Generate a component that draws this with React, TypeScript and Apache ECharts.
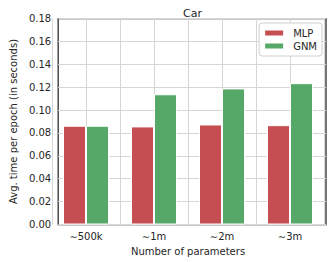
import React, { useEffect, useRef } from "react";
import * as echarts from "echarts";

const categories = ["∼500k", "∼1m", "∼2m", "∼3m"];
const mlpValues = [0.0863, 0.0857, 0.0874, 0.0868];
const gnmValues = [0.0863, 0.1138, 0.1189, 0.1235];
const gridSlots = ["a", "b", "c", "d", "e", "f", "g", "h", "i"];

export default function App() {
  const ref = useRef<HTMLDivElement>(null);
  useEffect(() => {
    if (!ref.current) return;
    const chart = echarts.init(ref.current, undefined, { renderer: "svg" });
    const font = "DejaVu Sans";
    const textColor = "#262626";
    const gridColor = "#d6d6d6";
    chart.setOption({
      animation: false,
      textStyle: { fontFamily: font },
      title: {
        text: "Car",
        left: 187.5,
        textAlign: "center",
        top: 3,
        textStyle: { fontSize: 11, fontWeight: "normal", color: textColor, fontFamily: font },
      },
      grid: [
        {
          left: 49,
          right: 7,
          top: 18.5,
          bottom: 37.5,
          show: true,
          borderColor: "#262626",
          borderWidth: 1.25,
          backgroundColor: "#ffffff",
        },
        { left: 52, right: 9, top: 18.5, bottom: 37.5 },
      ],
      legend: {
        orient: "vertical",
        right: 11,
        top: 23,
        itemWidth: 20,
        itemHeight: 7,
        itemGap: 3,
        icon: "rect",
        padding: [5, 5, 5, 4],
        borderColor: "#d0d0d0",
        borderWidth: 1,
        borderRadius: 3,
        backgroundColor: "#ffffff",
        textStyle: { fontSize: 10, color: textColor, fontFamily: font, padding: [0, 0, 0, 4] },
        data: ["MLP", "GNM"],
      },
      xAxis: [
        {
          gridIndex: 0,
          type: "value",
          min: 0,
          max: 1,
          show: false,
        },
        {
          gridIndex: 1,
          type: "category",
          data: categories,
          boundaryGap: true,
          axisLine: { show: false },
          axisTick: { show: false },
          splitLine: { show: false },
          axisLabel: { fontSize: 10, color: textColor, fontFamily: font, margin: 7 },
          name: "Number of parameters",
          nameLocation: "middle",
          nameGap: 20,
          nameTextStyle: { fontSize: 10, color: textColor, fontFamily: font },
        },
        {
          gridIndex: 1,
          type: "category",
          data: gridSlots,
          boundaryGap: false,
          axisLine: { show: false },
          axisTick: { show: false },
          axisLabel: { show: false },
          splitLine: { show: true, interval: 0, lineStyle: { color: gridColor, width: 1 } },
        },
      ],
      yAxis: [
        {
          gridIndex: 0,
          type: "value",
          min: 0,
          max: 0.18,
          interval: 0.02,
          axisLine: { show: false },
          axisTick: { show: false },
          splitLine: { show: true, lineStyle: { color: gridColor, width: 1 } },
          axisLabel: {
            formatter: (v: number) => v.toFixed(2),
            fontSize: 10,
            color: textColor,
            fontFamily: font,
            margin: 7,
          },
          name: "Avg. time per epoch (in seconds)",
          nameLocation: "middle",
          nameGap: 36,
          nameTextStyle: { fontSize: 10, color: textColor, fontFamily: font },
        },
        {
          gridIndex: 1,
          type: "value",
          min: 0,
          max: 0.18,
          interval: 0.02,
          show: false,
        },
      ],
      series: [
        {
          name: "MLP",
          type: "bar",
          xAxisIndex: 1,
          yAxisIndex: 1,
          barWidth: 23,
          barGap: "0%",
          data: mlpValues,
          itemStyle: { color: "#c44e52", borderColor: "#ffffff", borderWidth: 1 },
          z: 3,
        },
        {
          name: "GNM",
          type: "bar",
          xAxisIndex: 1,
          yAxisIndex: 1,
          barWidth: 23,
          barGap: "0%",
          data: gnmValues,
          itemStyle: { color: "#55a868", borderColor: "#ffffff", borderWidth: 1 },
          z: 3,
        },
      ],
    });
    return () => chart.dispose();
  }, []);
  return <div ref={ref} style={{ width: 333, height: 262, position: "absolute", left: 0, top: 0 }} />;
}
